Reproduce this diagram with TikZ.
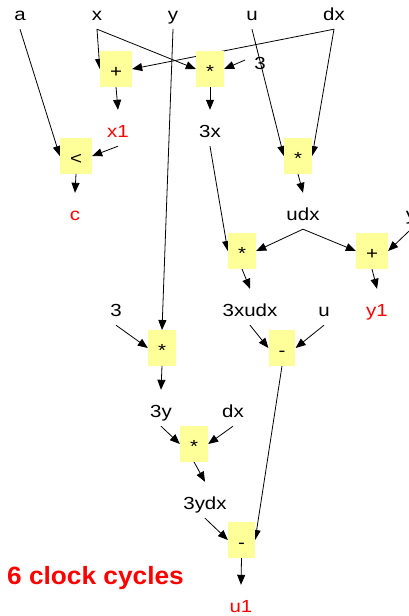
\documentclass[tikz,border=0pt]{standalone}
\usepackage{fontspec}
\setmainfont{Liberation Sans}
\newfontfamily\lab[FakeStretch=1.17]{Liberation Sans}
\newfontfamily\capfont[FakeStretch=1.05]{Liberation Sans}
\usetikzlibrary{arrows.meta,backgrounds}
\definecolor{opfill}{RGB}{255,255,153}
\definecolor{outred}{RGB}{255,0,0}
\begin{document}
\begin{tikzpicture}[x=1pt,y=-1pt,
  lbl/.style={font=\lab\fontsize{17.5}{20}\selectfont, text height=23pt, text depth=5pt,
              inner ysep=4pt, inner xsep=3pt, anchor=base},
  outlbl/.style={lbl, text=outred},
  op/.style={fill=opfill, font=\lab\fontsize{17.5}{20}\selectfont, inner xsep=10pt,
             inner ysep=0pt, text height=16pt, text depth=0pt, minimum height=35.5pt},
  arr/.style={-{Triangle[length=10pt,width=8pt]}, line width=0.8pt, black}]
\useasboundingbox (0,0) rectangle (409,616);

% operation boxes
\node[op] (plus1) at (116,69) {+};
\node[op] (mul1)  at (210,69) {*};
\node[op] (lt)    at (76,156) {<};
\node[op] (mul2)  at (298,156) {*};
\node[op] (mul3)  at (242,251) {*};
\node[op] (plus2) at (372,251) {+};
\node[op] (mul4)  at (162,348) {*};
\node[op] (sub1)  at (282,348) {-};
\node[op] (mul5)  at (194,444) {*};
\node[op] (sub2)  at (241.5,540) {-};

% inputs and intermediate values
\node[lbl] (a)     at (20,20)  {a};
\node[lbl] (x)     at (97,20)  {x};
\node[lbl] (y)     at (173,20) {y};
\node[lbl] (u)     at (252,20) {u};
\node[lbl] (dx)    at (334,20) {dx};
\node[lbl, inner xsep=9pt] (three1) at (260,69) {3};
\node[outlbl] (x1) at (118,137) {x1};
\node[lbl] (t3x)   at (210,137) {3x};
\node[outlbl] (c)  at (75,220)  {c};
\node[lbl] (udx)   at (303,220) {udx};
\node[lbl] (yr)    at (411,220) {y};
\node[lbl] (three2) at (116,316) {3};
\node[lbl] (t3xudx) at (250,316) {3xudx};
\node[lbl] (u2)    at (324,316) {u};
\node[outlbl] (y1) at (377,316) {y1};
\node[lbl] (t3y)   at (161,417) {3y};
\node[lbl] (dx2)   at (233,417) {dx};
\node[lbl] (t3ydx) at (205,509) {3ydx};
\node[outlbl] (u1) at (241,612) {u1};

\node[anchor=base west, inner sep=0pt, text=outred,
      font=\capfont\bfseries\fontsize{25}{28}\selectfont] (cycles) at (7,584) {6 clock cycles};

% data flow
\begin{pgfonlayer}{background}
\draw[arr] (a.south) -- (lt.west);
\draw[arr] (x.south) -- (plus1.west);
\draw[arr] (x.south) -- (mul1.west);
\draw[arr] (dx.south) -- (plus1.east);
\draw[arr] (three1.west) -- (mul1.east);
\draw[arr] (plus1.south) -- (x1.north);
\draw[arr] (x1.south) -- (lt.east);
\draw[arr] (lt.south) -- (c.north);
\draw[arr] (mul1.south) -- (t3x.north);
\draw[arr] (u.south) -- (mul2.west);
\draw[arr] (dx.south) -- (mul2.east);
\draw[arr] (mul2.south) -- (udx.north);
\draw[arr] (t3x.south) -- (mul3.west);
\draw[arr] (udx.south) -- (mul3.east);
\draw[arr] (udx.south) -- (plus2.west);
\draw[arr] (yr.south) -- (plus2.east);
\draw[arr] (mul3.south) -- (t3xudx.north);
\draw[arr] (plus2.south) -- (y1.north);
\draw[arr] (y.south) -- (mul4.north);
\draw[arr] (three2.south) -- (mul4.west);
\draw[arr] (t3xudx.south) -- (sub1.west);
\draw[arr] (u2.south) -- (sub1.east);
\draw[arr] (mul4.south) -- (t3y.north);
\draw[arr] (t3y.south) -- (mul5.west);
\draw[arr] (dx2.south) -- (mul5.east);
\draw[arr] (mul5.south) -- (t3ydx.north);
\draw[arr] (sub1.south) -- (sub2.east);
\draw[arr] (t3ydx.south) -- (sub2.west);
\draw[arr] (sub2.south) -- (u1.north);
\end{pgfonlayer}
\end{tikzpicture}
\end{document}
